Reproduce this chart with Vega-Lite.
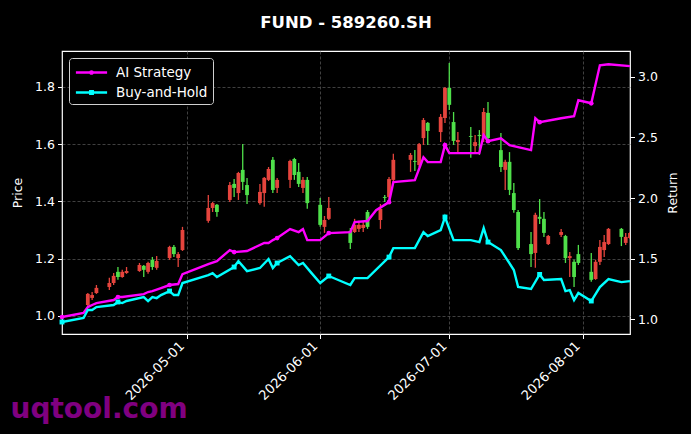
{
  "$schema": "https://vega.github.io/schema/vega-lite/v6.json",
  "width": 568,
  "height": 283,
  "autosize": {"type": "none"},
  "padding": {"left": 62, "top": 51, "right": 61, "bottom": 100},
  "background": "#000000",
  "title": {
    "text": "FUND - 589260.SH",
    "color": "#ffffff",
    "fontSize": 16.5,
    "fontWeight": "bold",
    "anchor": "middle",
    "baseline": "alphabetic",
    "offset": 7
  },
  "datasets": {
    "candles": [
      {"date": "2026-04-08", "open": 1.038, "high": 1.080, "low": 1.031, "close": 1.077},
      {"date": "2026-04-09", "open": 1.063, "high": 1.084, "low": 1.056, "close": 1.073},
      {"date": "2026-04-10", "open": 1.080, "high": 1.108, "low": 1.077, "close": 1.098},
      {"date": "2026-04-13", "open": 1.101, "high": 1.133, "low": 1.091, "close": 1.115},
      {"date": "2026-04-14", "open": 1.115, "high": 1.150, "low": 1.108, "close": 1.140},
      {"date": "2026-04-15", "open": 1.154, "high": 1.171, "low": 1.126, "close": 1.136},
      {"date": "2026-04-16", "open": 1.136, "high": 1.161, "low": 1.133, "close": 1.154},
      {"date": "2026-04-17", "open": 1.150, "high": 1.171, "low": 1.147, "close": 1.157},
      {"date": "2026-04-20", "open": 1.157, "high": 1.185, "low": 1.154, "close": 1.178},
      {"date": "2026-04-21", "open": 1.175, "high": 1.178, "low": 1.136, "close": 1.161},
      {"date": "2026-04-22", "open": 1.154, "high": 1.189, "low": 1.147, "close": 1.185},
      {"date": "2026-04-23", "open": 1.196, "high": 1.206, "low": 1.161, "close": 1.171},
      {"date": "2026-04-24", "open": 1.168, "high": 1.209, "low": 1.161, "close": 1.192},
      {"date": "2026-04-27", "open": 1.202, "high": 1.245, "low": 1.196, "close": 1.241},
      {"date": "2026-04-28", "open": 1.241, "high": 1.248, "low": 1.206, "close": 1.216},
      {"date": "2026-04-29", "open": 1.202, "high": 1.223, "low": 1.171, "close": 1.216},
      {"date": "2026-04-30", "open": 1.230, "high": 1.311, "low": 1.227, "close": 1.300},
      {"date": "2026-05-06", "open": 1.332, "high": 1.422, "low": 1.325, "close": 1.377},
      {"date": "2026-05-07", "open": 1.377, "high": 1.398, "low": 1.363, "close": 1.394},
      {"date": "2026-05-08", "open": 1.388, "high": 1.391, "low": 1.346, "close": 1.363},
      {"date": "2026-05-11", "open": 1.405, "high": 1.468, "low": 1.398, "close": 1.457},
      {"date": "2026-05-12", "open": 1.461, "high": 1.478, "low": 1.415, "close": 1.447},
      {"date": "2026-05-13", "open": 1.429, "high": 1.503, "low": 1.405, "close": 1.499},
      {"date": "2026-05-14", "open": 1.510, "high": 1.600, "low": 1.440, "close": 1.468},
      {"date": "2026-05-15", "open": 1.457, "high": 1.482, "low": 1.391, "close": 1.422},
      {"date": "2026-05-18", "open": 1.394, "high": 1.461, "low": 1.388, "close": 1.433},
      {"date": "2026-05-19", "open": 1.429, "high": 1.485, "low": 1.381, "close": 1.482},
      {"date": "2026-05-20", "open": 1.475, "high": 1.520, "low": 1.471, "close": 1.513},
      {"date": "2026-05-21", "open": 1.545, "high": 1.555, "low": 1.429, "close": 1.440},
      {"date": "2026-05-22", "open": 1.447, "high": 1.482, "low": 1.429, "close": 1.475},
      {"date": "2026-05-25", "open": 1.475, "high": 1.545, "low": 1.447, "close": 1.541},
      {"date": "2026-05-26", "open": 1.548, "high": 1.552, "low": 1.475, "close": 1.492},
      {"date": "2026-05-27", "open": 1.503, "high": 1.534, "low": 1.450, "close": 1.461},
      {"date": "2026-05-28", "open": 1.447, "high": 1.485, "low": 1.429, "close": 1.475},
      {"date": "2026-05-29", "open": 1.475, "high": 1.485, "low": 1.374, "close": 1.394},
      {"date": "2026-06-01", "open": 1.388, "high": 1.412, "low": 1.311, "close": 1.318},
      {"date": "2026-06-02", "open": 1.311, "high": 1.349, "low": 1.290, "close": 1.335},
      {"date": "2026-06-03", "open": 1.339, "high": 1.415, "low": 1.335, "close": 1.377},
      {"date": "2026-06-08", "open": 1.297, "high": 1.307, "low": 1.234, "close": 1.255},
      {"date": "2026-06-09", "open": 1.293, "high": 1.339, "low": 1.290, "close": 1.318},
      {"date": "2026-06-10", "open": 1.304, "high": 1.332, "low": 1.293, "close": 1.318},
      {"date": "2026-06-11", "open": 1.307, "high": 1.328, "low": 1.293, "close": 1.318},
      {"date": "2026-06-12", "open": 1.363, "high": 1.370, "low": 1.304, "close": 1.311},
      {"date": "2026-06-15", "open": 1.335, "high": 1.391, "low": 1.304, "close": 1.374},
      {"date": "2026-06-16", "open": 1.415, "high": 1.422, "low": 1.398, "close": 1.412},
      {"date": "2026-06-17", "open": 1.415, "high": 1.485, "low": 1.394, "close": 1.478},
      {"date": "2026-06-18", "open": 1.475, "high": 1.566, "low": 1.468, "close": 1.545},
      {"date": "2026-06-22", "open": 1.545, "high": 1.569, "low": 1.503, "close": 1.562},
      {"date": "2026-06-23", "open": 1.541, "high": 1.579, "low": 1.506, "close": 1.538},
      {"date": "2026-06-24", "open": 1.527, "high": 1.604, "low": 1.520, "close": 1.600},
      {"date": "2026-06-25", "open": 1.621, "high": 1.691, "low": 1.597, "close": 1.684},
      {"date": "2026-06-26", "open": 1.674, "high": 1.677, "low": 1.597, "close": 1.646},
      {"date": "2026-06-29", "open": 1.642, "high": 1.705, "low": 1.607, "close": 1.695},
      {"date": "2026-06-30", "open": 1.691, "high": 1.799, "low": 1.674, "close": 1.796},
      {"date": "2026-07-01", "open": 1.796, "high": 1.883, "low": 1.719, "close": 1.737},
      {"date": "2026-07-02", "open": 1.677, "high": 1.712, "low": 1.597, "close": 1.611},
      {"date": "2026-07-03", "open": 1.607, "high": 1.642, "low": 1.572, "close": 1.614},
      {"date": "2026-07-06", "open": 1.628, "high": 1.660, "low": 1.552, "close": 1.625},
      {"date": "2026-07-07", "open": 1.593, "high": 1.632, "low": 1.572, "close": 1.607},
      {"date": "2026-07-08", "open": 1.632, "high": 1.649, "low": 1.562, "close": 1.628},
      {"date": "2026-07-09", "open": 1.625, "high": 1.726, "low": 1.607, "close": 1.712},
      {"date": "2026-07-10", "open": 1.709, "high": 1.747, "low": 1.607, "close": 1.621},
      {"date": "2026-07-13", "open": 1.579, "high": 1.639, "low": 1.503, "close": 1.520},
      {"date": "2026-07-14", "open": 1.510, "high": 1.545, "low": 1.440, "close": 1.538},
      {"date": "2026-07-15", "open": 1.538, "high": 1.572, "low": 1.422, "close": 1.440},
      {"date": "2026-07-16", "open": 1.429, "high": 1.464, "low": 1.360, "close": 1.370},
      {"date": "2026-07-17", "open": 1.363, "high": 1.370, "low": 1.230, "close": 1.237},
      {"date": "2026-07-20", "open": 1.251, "high": 1.293, "low": 1.171, "close": 1.216},
      {"date": "2026-07-21", "open": 1.220, "high": 1.360, "low": 1.168, "close": 1.353},
      {"date": "2026-07-22", "open": 1.346, "high": 1.408, "low": 1.321, "close": 1.339},
      {"date": "2026-07-23", "open": 1.339, "high": 1.363, "low": 1.276, "close": 1.290},
      {"date": "2026-07-24", "open": 1.251, "high": 1.283, "low": 1.248, "close": 1.279},
      {"date": "2026-07-27", "open": 1.283, "high": 1.304, "low": 1.276, "close": 1.293},
      {"date": "2026-07-28", "open": 1.279, "high": 1.283, "low": 1.185, "close": 1.202},
      {"date": "2026-07-29", "open": 1.202, "high": 1.223, "low": 1.136, "close": 1.209},
      {"date": "2026-07-30", "open": 1.189, "high": 1.196, "low": 1.101, "close": 1.136},
      {"date": "2026-07-31", "open": 1.216, "high": 1.248, "low": 1.178, "close": 1.185},
      {"date": "2026-08-03", "open": 1.154, "high": 1.220, "low": 1.119, "close": 1.126},
      {"date": "2026-08-04", "open": 1.129, "high": 1.196, "low": 1.126, "close": 1.189},
      {"date": "2026-08-05", "open": 1.189, "high": 1.265, "low": 1.178, "close": 1.241},
      {"date": "2026-08-06", "open": 1.230, "high": 1.283, "low": 1.206, "close": 1.258},
      {"date": "2026-08-07", "open": 1.251, "high": 1.307, "low": 1.248, "close": 1.304},
      {"date": "2026-08-10", "open": 1.304, "high": 1.307, "low": 1.244, "close": 1.276},
      {"date": "2026-08-11", "open": 1.255, "high": 1.290, "low": 1.248, "close": 1.276},
      {"date": "2026-08-12", "open": 1.272, "high": 1.293, "low": 1.269, "close": 1.290}
    ],
    "lines": [
      {"date": "2026-04-02", "series": "AI Strategy", "value": 1.019},
      {"date": "2026-04-07", "series": "AI Strategy", "value": 1.052},
      {"date": "2026-04-08", "series": "AI Strategy", "value": 1.101},
      {"date": "2026-04-09", "series": "AI Strategy", "value": 1.118},
      {"date": "2026-04-10", "series": "AI Strategy", "value": 1.134},
      {"date": "2026-04-14", "series": "AI Strategy", "value": 1.159},
      {"date": "2026-04-15", "series": "AI Strategy", "value": 1.184},
      {"date": "2026-04-16", "series": "AI Strategy", "value": 1.184},
      {"date": "2026-04-21", "series": "AI Strategy", "value": 1.208},
      {"date": "2026-04-22", "series": "AI Strategy", "value": 1.225},
      {"date": "2026-04-23", "series": "AI Strategy", "value": 1.233},
      {"date": "2026-04-25", "series": "AI Strategy", "value": 1.258},
      {"date": "2026-04-27", "series": "AI Strategy", "value": 1.283},
      {"date": "2026-04-29", "series": "AI Strategy", "value": 1.291},
      {"date": "2026-04-30", "series": "AI Strategy", "value": 1.373},
      {"date": "2026-05-06", "series": "AI Strategy", "value": 1.456},
      {"date": "2026-05-08", "series": "AI Strategy", "value": 1.480},
      {"date": "2026-05-11", "series": "AI Strategy", "value": 1.571},
      {"date": "2026-05-12", "series": "AI Strategy", "value": 1.554},
      {"date": "2026-05-15", "series": "AI Strategy", "value": 1.563},
      {"date": "2026-05-19", "series": "AI Strategy", "value": 1.629},
      {"date": "2026-05-20", "series": "AI Strategy", "value": 1.629},
      {"date": "2026-05-21", "series": "AI Strategy", "value": 1.653},
      {"date": "2026-05-22", "series": "AI Strategy", "value": 1.670},
      {"date": "2026-05-25", "series": "AI Strategy", "value": 1.744},
      {"date": "2026-05-27", "series": "AI Strategy", "value": 1.719},
      {"date": "2026-05-28", "series": "AI Strategy", "value": 1.744},
      {"date": "2026-05-29", "series": "AI Strategy", "value": 1.653},
      {"date": "2026-06-01", "series": "AI Strategy", "value": 1.653},
      {"date": "2026-06-03", "series": "AI Strategy", "value": 1.711},
      {"date": "2026-06-08", "series": "AI Strategy", "value": 1.719},
      {"date": "2026-06-09", "series": "AI Strategy", "value": 1.802},
      {"date": "2026-06-12", "series": "AI Strategy", "value": 1.810},
      {"date": "2026-06-14", "series": "AI Strategy", "value": 1.900},
      {"date": "2026-06-17", "series": "AI Strategy", "value": 1.966},
      {"date": "2026-06-18", "series": "AI Strategy", "value": 2.131},
      {"date": "2026-06-23", "series": "AI Strategy", "value": 2.147},
      {"date": "2026-06-25", "series": "AI Strategy", "value": 2.336},
      {"date": "2026-06-26", "series": "AI Strategy", "value": 2.296},
      {"date": "2026-06-29", "series": "AI Strategy", "value": 2.296},
      {"date": "2026-06-30", "series": "AI Strategy", "value": 2.436},
      {"date": "2026-07-01", "series": "AI Strategy", "value": 2.370},
      {"date": "2026-07-08", "series": "AI Strategy", "value": 2.370},
      {"date": "2026-07-09", "series": "AI Strategy", "value": 2.518},
      {"date": "2026-07-10", "series": "AI Strategy", "value": 2.469},
      {"date": "2026-07-13", "series": "AI Strategy", "value": 2.493},
      {"date": "2026-07-15", "series": "AI Strategy", "value": 2.436},
      {"date": "2026-07-20", "series": "AI Strategy", "value": 2.395},
      {"date": "2026-07-21", "series": "AI Strategy", "value": 2.658},
      {"date": "2026-07-22", "series": "AI Strategy", "value": 2.625},
      {"date": "2026-07-27", "series": "AI Strategy", "value": 2.658},
      {"date": "2026-07-30", "series": "AI Strategy", "value": 2.675},
      {"date": "2026-07-31", "series": "AI Strategy", "value": 2.806},
      {"date": "2026-08-03", "series": "AI Strategy", "value": 2.781},
      {"date": "2026-08-05", "series": "AI Strategy", "value": 3.094},
      {"date": "2026-08-07", "series": "AI Strategy", "value": 3.103},
      {"date": "2026-08-12", "series": "AI Strategy", "value": 3.087},
      {"date": "2026-04-02", "series": "Buy-and-Hold", "value": 0.978},
      {"date": "2026-04-07", "series": "Buy-and-Hold", "value": 1.011},
      {"date": "2026-04-08", "series": "Buy-and-Hold", "value": 1.077},
      {"date": "2026-04-09", "series": "Buy-and-Hold", "value": 1.077},
      {"date": "2026-04-10", "series": "Buy-and-Hold", "value": 1.101},
      {"date": "2026-04-14", "series": "Buy-and-Hold", "value": 1.118},
      {"date": "2026-04-15", "series": "Buy-and-Hold", "value": 1.143},
      {"date": "2026-04-16", "series": "Buy-and-Hold", "value": 1.134},
      {"date": "2026-04-17", "series": "Buy-and-Hold", "value": 1.151},
      {"date": "2026-04-21", "series": "Buy-and-Hold", "value": 1.184},
      {"date": "2026-04-22", "series": "Buy-and-Hold", "value": 1.151},
      {"date": "2026-04-23", "series": "Buy-and-Hold", "value": 1.184},
      {"date": "2026-04-24", "series": "Buy-and-Hold", "value": 1.175},
      {"date": "2026-04-25", "series": "Buy-and-Hold", "value": 1.200},
      {"date": "2026-04-27", "series": "Buy-and-Hold", "value": 1.233},
      {"date": "2026-04-28", "series": "Buy-and-Hold", "value": 1.200},
      {"date": "2026-04-29", "series": "Buy-and-Hold", "value": 1.200},
      {"date": "2026-04-30", "series": "Buy-and-Hold", "value": 1.299},
      {"date": "2026-05-06", "series": "Buy-and-Hold", "value": 1.365},
      {"date": "2026-05-07", "series": "Buy-and-Hold", "value": 1.381},
      {"date": "2026-05-08", "series": "Buy-and-Hold", "value": 1.348},
      {"date": "2026-05-12", "series": "Buy-and-Hold", "value": 1.431},
      {"date": "2026-05-13", "series": "Buy-and-Hold", "value": 1.480},
      {"date": "2026-05-15", "series": "Buy-and-Hold", "value": 1.398},
      {"date": "2026-05-18", "series": "Buy-and-Hold", "value": 1.423},
      {"date": "2026-05-20", "series": "Buy-and-Hold", "value": 1.497},
      {"date": "2026-05-21", "series": "Buy-and-Hold", "value": 1.423},
      {"date": "2026-05-22", "series": "Buy-and-Hold", "value": 1.464},
      {"date": "2026-05-25", "series": "Buy-and-Hold", "value": 1.521},
      {"date": "2026-05-27", "series": "Buy-and-Hold", "value": 1.447},
      {"date": "2026-05-28", "series": "Buy-and-Hold", "value": 1.464},
      {"date": "2026-05-30", "series": "Buy-and-Hold", "value": 1.381},
      {"date": "2026-06-01", "series": "Buy-and-Hold", "value": 1.299},
      {"date": "2026-06-03", "series": "Buy-and-Hold", "value": 1.357},
      {"date": "2026-06-08", "series": "Buy-and-Hold", "value": 1.283},
      {"date": "2026-06-09", "series": "Buy-and-Hold", "value": 1.340},
      {"date": "2026-06-12", "series": "Buy-and-Hold", "value": 1.340},
      {"date": "2026-06-17", "series": "Buy-and-Hold", "value": 1.513},
      {"date": "2026-06-18", "series": "Buy-and-Hold", "value": 1.587},
      {"date": "2026-06-23", "series": "Buy-and-Hold", "value": 1.587},
      {"date": "2026-06-25", "series": "Buy-and-Hold", "value": 1.719},
      {"date": "2026-06-26", "series": "Buy-and-Hold", "value": 1.686},
      {"date": "2026-06-29", "series": "Buy-and-Hold", "value": 1.736},
      {"date": "2026-06-30", "series": "Buy-and-Hold", "value": 1.843},
      {"date": "2026-07-02", "series": "Buy-and-Hold", "value": 1.653},
      {"date": "2026-07-06", "series": "Buy-and-Hold", "value": 1.653},
      {"date": "2026-07-08", "series": "Buy-and-Hold", "value": 1.637},
      {"date": "2026-07-09", "series": "Buy-and-Hold", "value": 1.752},
      {"date": "2026-07-10", "series": "Buy-and-Hold", "value": 1.637},
      {"date": "2026-07-13", "series": "Buy-and-Hold", "value": 1.571},
      {"date": "2026-07-16", "series": "Buy-and-Hold", "value": 1.406},
      {"date": "2026-07-17", "series": "Buy-and-Hold", "value": 1.266},
      {"date": "2026-07-20", "series": "Buy-and-Hold", "value": 1.250},
      {"date": "2026-07-22", "series": "Buy-and-Hold", "value": 1.370},
      {"date": "2026-07-23", "series": "Buy-and-Hold", "value": 1.324},
      {"date": "2026-07-27", "series": "Buy-and-Hold", "value": 1.332},
      {"date": "2026-07-28", "series": "Buy-and-Hold", "value": 1.233},
      {"date": "2026-07-29", "series": "Buy-and-Hold", "value": 1.241},
      {"date": "2026-07-30", "series": "Buy-and-Hold", "value": 1.159},
      {"date": "2026-07-31", "series": "Buy-and-Hold", "value": 1.217},
      {"date": "2026-08-03", "series": "Buy-and-Hold", "value": 1.151},
      {"date": "2026-08-05", "series": "Buy-and-Hold", "value": 1.266},
      {"date": "2026-08-07", "series": "Buy-and-Hold", "value": 1.332},
      {"date": "2026-08-10", "series": "Buy-and-Hold", "value": 1.307},
      {"date": "2026-08-12", "series": "Buy-and-Hold", "value": 1.315}
    ],
    "markers": [
      {"date": "2026-04-02", "series": "AI Strategy", "value": 1.019},
      {"date": "2026-04-15", "series": "AI Strategy", "value": 1.184},
      {"date": "2026-04-27", "series": "AI Strategy", "value": 1.283},
      {"date": "2026-05-12", "series": "AI Strategy", "value": 1.554},
      {"date": "2026-05-22", "series": "AI Strategy", "value": 1.670},
      {"date": "2026-06-03", "series": "AI Strategy", "value": 1.711},
      {"date": "2026-06-17", "series": "AI Strategy", "value": 1.966},
      {"date": "2026-06-30", "series": "AI Strategy", "value": 2.436},
      {"date": "2026-07-10", "series": "AI Strategy", "value": 2.469},
      {"date": "2026-07-22", "series": "AI Strategy", "value": 2.625},
      {"date": "2026-08-03", "series": "AI Strategy", "value": 2.781},
      {"date": "2026-04-02", "series": "Buy-and-Hold", "value": 0.978},
      {"date": "2026-04-15", "series": "Buy-and-Hold", "value": 1.143},
      {"date": "2026-04-27", "series": "Buy-and-Hold", "value": 1.233},
      {"date": "2026-05-12", "series": "Buy-and-Hold", "value": 1.431},
      {"date": "2026-05-22", "series": "Buy-and-Hold", "value": 1.464},
      {"date": "2026-06-03", "series": "Buy-and-Hold", "value": 1.357},
      {"date": "2026-06-17", "series": "Buy-and-Hold", "value": 1.513},
      {"date": "2026-06-30", "series": "Buy-and-Hold", "value": 1.843},
      {"date": "2026-07-10", "series": "Buy-and-Hold", "value": 1.637},
      {"date": "2026-07-22", "series": "Buy-and-Hold", "value": 1.370},
      {"date": "2026-08-03", "series": "Buy-and-Hold", "value": 1.151}
    ]
  },
  "encoding": {
    "x": {
      "field": "date",
      "type": "temporal",
      "scale": {
        "type": "utc",
        "domain": [
          {"year": 2026, "month": "apr", "date": 2, "utc": true},
          {"year": 2026, "month": "aug", "date": 12, "utc": true}
        ],
        "nice": false
      },
      "axis": {
        "values": [
          {"year": 2026, "month": "may", "date": 1, "utc": true},
          {"year": 2026, "month": "jun", "date": 1, "utc": true},
          {"year": 2026, "month": "jul", "date": 1, "utc": true},
          {"year": 2026, "month": "aug", "date": 1, "utc": true}
        ],
        "format": "%Y-%m-%d",
        "labelAngle": -45,
        "labelAlign": "right",
        "labelBaseline": "middle",
        "labelFontSize": 13.2,
        "labelOffset": -5,
        "labelPadding": 5,
        "grid": true,
        "title": "uqtool.com",
        "titleColor": "#800080",
        "titleFontSize": 28,
        "titleFontWeight": "bold",
        "titleAnchor": "start",
        "titleAlign": "left",
        "titleBaseline": "alphabetic",
        "titleX": -52,
        "titleY": 83
      }
    }
  },
  "layer": [
    {
      "data": {"name": "candles"},
      "layer": [
        {
          "mark": {"type": "rule", "strokeWidth": 1.3, "clip": true},
          "encoding": {
            "y": {
              "field": "low",
              "type": "quantitative",
              "title": "Price",
              "scale": {"domain": [0.937, 1.925], "nice": false, "zero": false},
              "axis": {"values": [1.0, 1.2, 1.4, 1.6, 1.8], "format": ".1f", "grid": true, "titlePadding": 10}
            },
            "y2": {"field": "high"},
            "color": {
              "condition": {"test": "datum.close >= datum.open", "value": "#e5443d"},
              "value": "#4fe04a"
            }
          }
        },
        {
          "mark": {"type": "rule", "strokeWidth": 3.8, "strokeCap": "butt", "clip": true},
          "encoding": {
            "y": {"field": "open", "type": "quantitative", "title": "Price"},
            "y2": {"field": "close"},
            "color": {
              "condition": {"test": "datum.close >= datum.open", "value": "#e5443d"},
              "value": "#4fe04a"
            }
          }
        }
      ]
    },
    {
      "layer": [
        {
          "data": {"name": "lines"},
          "mark": {"type": "line", "strokeWidth": 2.4, "clip": true},
          "encoding": {
            "y": {
              "field": "value",
              "type": "quantitative",
              "title": "Return",
              "scale": {"domain": [0.879, 3.212], "nice": false, "zero": false},
              "axis": {"orient": "right", "values": [1.0, 1.5, 2.0, 2.5, 3.0], "format": ".1f", "grid": false, "titleAngle": 270, "titlePadding": 22}
            },
            "color": {
              "field": "series",
              "type": "nominal",
              "scale": {"domain": ["AI Strategy", "Buy-and-Hold"], "range": ["#ff00ff", "#00ffff"]},
              "legend": {
                "title": null,
                "orient": "top-left",
                "offset": 7,
                "fillColor": "#000000",
                "strokeColor": "#d0d0d0",
                "cornerRadius": 3,
                "padding": 5,
                "labelColor": "#ffffff",
                "labelFontSize": 13.5,
                "symbolSize": 256,
                "symbolStrokeWidth": 2.5,
                "symbolOffset": 8,
                "labelOffset": 15,
                "rowPadding": 4,
                "encode": {
                  "symbols": {
                    "update": {
                      "shape": {"signal": "datum.value === 'AI Strategy' ? 'M-1.95,0H1.95M-0.14,0A0.14,0.14 0 1,0 0.14,0A0.14,0.14 0 1,0 -0.14,0' : 'M-1.95,0H1.95M-0.15,-0.15H0.15V0.15H-0.15Z'"}
                    }
                  }
                }
              }
            }
          }
        },
        {
          "data": {"name": "markers"},
          "transform": [{"filter": "datum.series === 'AI Strategy'"}],
          "mark": {"type": "point", "shape": "circle", "filled": true, "size": 22, "color": "#ff00ff", "opacity": 1},
          "encoding": {"y": {"field": "value", "type": "quantitative", "title": "Return"}}
        },
        {
          "data": {"name": "markers"},
          "transform": [{"filter": "datum.series === 'Buy-and-Hold'"}],
          "mark": {"type": "point", "shape": "square", "filled": true, "size": 24, "color": "#00ffff", "opacity": 1},
          "encoding": {"y": {"field": "value", "type": "quantitative", "title": "Return"}}
        }
      ]
    }
  ],
  "resolve": {"scale": {"y": "independent"}},
  "config": {
    "font": "DejaVu Sans",
    "view": {"stroke": "#ffffff", "strokeWidth": 1.2},
    "axis": {
      "domain": false,
      "labelColor": "#ffffff",
      "titleColor": "#ffffff",
      "tickColor": "#ffffff",
      "labelFontSize": 12.5,
      "titleFontSize": 12.5,
      "titleFontWeight": "normal",
      "tickSize": 4.5,
      "labelPadding": 3,
      "gridColor": "#5c5c5c",
      "gridDash": [3, 2],
      "gridWidth": 0.7
    }
  }
}
